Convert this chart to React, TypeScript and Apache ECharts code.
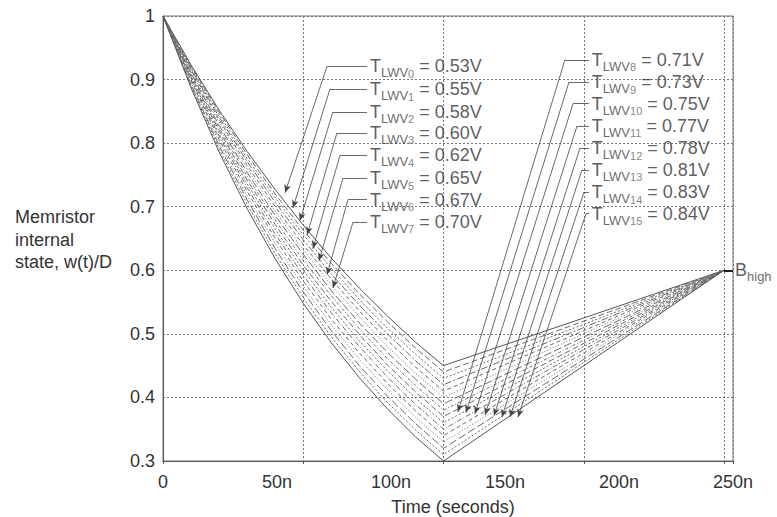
import React, { useEffect, useRef } from "react";
import * as echarts from "echarts";

// time axis (ns)
const timeNs = [0, 12.5, 25, 37.5, 50, 62.5, 75, 87.5, 100, 112.5, 125, 250];

// memristor internal state w(t)/D for each curve
const w0 = [1, 0.923, 0.852, 0.787, 0.727, 0.671, 0.619, 0.572, 0.528, 0.487, 0.45, 0.6];
const w1 = [1, 0.921, 0.849, 0.782, 0.72, 0.663, 0.611, 0.563, 0.519, 0.478, 0.44, 0.6];
const w2 = [1, 0.919, 0.845, 0.776, 0.714, 0.656, 0.603, 0.554, 0.509, 0.468, 0.43, 0.6];
const w3 = [1, 0.917, 0.841, 0.771, 0.707, 0.648, 0.594, 0.545, 0.5, 0.458, 0.42, 0.6];
const w4 = [1, 0.915, 0.837, 0.765, 0.7, 0.64, 0.586, 0.536, 0.49, 0.448, 0.41, 0.6];
const w5 = [1, 0.912, 0.833, 0.76, 0.693, 0.632, 0.577, 0.527, 0.48, 0.438, 0.4, 0.6];
const w6 = [1, 0.91, 0.828, 0.754, 0.686, 0.625, 0.568, 0.517, 0.471, 0.429, 0.39, 0.6];
const w7 = [1, 0.908, 0.824, 0.748, 0.679, 0.616, 0.56, 0.508, 0.461, 0.419, 0.38, 0.6];
const w8 = [1, 0.905, 0.82, 0.742, 0.672, 0.608, 0.551, 0.499, 0.451, 0.409, 0.37, 0.6];
const w9 = [1, 0.903, 0.815, 0.736, 0.665, 0.6, 0.542, 0.489, 0.442, 0.399, 0.36, 0.6];
const w10 = [1, 0.9, 0.811, 0.73, 0.657, 0.592, 0.533, 0.48, 0.432, 0.389, 0.35, 0.6];
const w11 = [1, 0.898, 0.806, 0.724, 0.65, 0.583, 0.523, 0.47, 0.422, 0.379, 0.34, 0.6];
const w12 = [1, 0.895, 0.801, 0.717, 0.642, 0.575, 0.514, 0.46, 0.412, 0.369, 0.33, 0.6];
const w13 = [1, 0.892, 0.796, 0.711, 0.634, 0.566, 0.505, 0.45, 0.402, 0.359, 0.32, 0.6];
const w14 = [1, 0.89, 0.791, 0.704, 0.626, 0.557, 0.495, 0.441, 0.392, 0.349, 0.31, 0.6];
const w15 = [1, 0.887, 0.786, 0.697, 0.618, 0.548, 0.486, 0.431, 0.382, 0.338, 0.3, 0.6];
const curves = [w0, w1, w2, w3, w4, w5, w6, w7, w8, w9, w10, w11, w12, w13, w14, w15];

// threshold voltages
const tlwvValues = ["0.53", "0.55", "0.58", "0.60", "0.62", "0.65", "0.67", "0.70",
  "0.71", "0.73", "0.75", "0.77", "0.78", "0.81", "0.83", "0.84"];

// annotation anchors (data units: ns, w/D)
const labelT = [92.2, 92.2, 92.2, 92.2, 92.2, 92.2, 92.2, 92.2,
  191.1, 191.1, 191.1, 191.1, 191.1, 191.1, 191.1, 191.1];
const labelV = [0.921, 0.885, 0.849, 0.816, 0.781, 0.745, 0.711, 0.676,
  0.931, 0.896, 0.862, 0.827, 0.792, 0.758, 0.723, 0.689];
const leaderT = [90.9, 90.9, 90.9, 90.9, 90.9, 90.9, 90.9, 90.9,
  189.8, 189.8, 189.8, 189.8, 189.8, 189.8, 189.8, 189.8];
const elbowT = [73.1, 74.4, 75.7, 77.5, 78.9, 80.2, 82.4, 84.7,
  179.1, 180.9, 182.7, 184.5, 185.8, 186.7, 187.6, 188.5];
const tipT = [54.4, 57.9, 61.0, 64.2, 66.8, 69.5, 73.1, 75.7,
  131.4, 135.0, 139.0, 143.5, 147.5, 151.0, 154.6, 158.2];
const tipV = [0.722, 0.698, 0.678, 0.656, 0.634, 0.615, 0.593, 0.572,
  0.377, 0.376, 0.374, 0.372, 0.371, 0.369, 0.369, 0.369];

const xTickLabels = ["0", "50n", "100n", "150n", "200n", "250n"];

const lineTypes: any[] = ["solid", [6, 3], [2, 2], [7, 2, 2, 2], [4, 3], [1, 2], [8, 3], [3, 2, 1, 2],
  [6, 3], [2, 2], [5, 2, 1, 2], [4, 3], [1, 2], [8, 3], [2, 2], "solid"];

const FONT = "'Liberation Sans', Arial, sans-serif";

export default function App() {
  const ref = useRef<HTMLDivElement>(null);
  useEffect(() => {
    const chart = echarts.init(ref.current!, undefined, { renderer: "svg" });

    const curveSeries = curves.map((c, k) => ({
      type: "line",
      name: "TLWV" + k,
      xAxisIndex: 0,
      yAxisIndex: 0,
      data: timeNs.map((t, i) => [t, c[i]]),
      showSymbol: false,
      symbol: "none",
      silent: true,
      lineStyle: { color: k === 0 || k === 15 ? "#555" : "#6a6a6a", width: 1, type: lineTypes[k] },
      z: 2,
    }));

    const markData: any[] = [];
    for (let k = 0; k < 16; k++) {
      markData.push([
        { coord: [leaderT[k], labelV[k]], symbol: "none" },
        { coord: [elbowT[k], labelV[k]], symbol: "none" },
      ]);
      markData.push([
        { coord: [elbowT[k], labelV[k]], symbol: "none" },
        { coord: [tipT[k], tipV[k]], symbol: "arrow", symbolSize: [5, 8] },
      ]);
    }
    markData.push([
      { coord: [250, 0.6], symbol: "none" },
      { coord: [254, 0.6], symbol: "none", lineStyle: { width: 2, color: "#222" } },
    ]);

    const labelSeries = {
      type: "scatter",
      xAxisIndex: 0,
      yAxisIndex: 0,
      silent: true,
      symbolSize: 0,
      data: labelT.map((t, k) => ({ value: [t, labelV[k]], k })),
      label: {
        show: true,
        position: "right",
        distance: 0,
        formatter: (p: any) => `{T|T}{L|LWV}{s|${p.dataIndex}}{n| = ${tlwvValues[p.dataIndex]}V}`,
        rich: {
          T: { fontSize: 18, color: "#333", fontFamily: FONT, lineHeight: 26, verticalAlign: "middle" },
          L: { fontSize: 13, color: "#444", fontFamily: FONT, lineHeight: 22, verticalAlign: "bottom" },
          s: { fontSize: 11, color: "#666", fontFamily: FONT, lineHeight: 14, verticalAlign: "bottom" },
          n: { fontSize: 18, color: "#333", fontFamily: FONT, lineHeight: 26, verticalAlign: "middle" },
        },
      },
      markLine: {
        silent: true,
        symbol: ["none", "none"],
        label: { show: false },
        lineStyle: { color: "#444", width: 0.8, type: "solid" },
        emphasis: { disabled: true },
        data: markData,
      },
      z: 5,
    };

    const bHighSeries = {
      type: "scatter",
      xAxisIndex: 0,
      yAxisIndex: 0,
      silent: true,
      symbolSize: 0,
      data: [[250, 0.6]],
      label: {
        show: true,
        position: "right",
        distance: 11,
        formatter: "{B|B}{h|high}",
        rich: {
          B: { fontSize: 18, color: "#333", fontFamily: FONT, lineHeight: 26, verticalAlign: "middle" },
          h: { fontSize: 13, color: "#444", fontFamily: FONT, lineHeight: 18, verticalAlign: "bottom" },
        },
      },
      z: 5,
    };

    const option: any = {
      animation: false,
      backgroundColor: "#ffffff",
      textStyle: { fontFamily: FONT },
      grid: { left: 163, right: 44, top: 16, bottom: 56, show: true, borderColor: "#777", borderWidth: 1 },
      xAxis: [
        {
          type: "value",
          min: 0,
          max: 254,
          interval: 62.5,
          axisLine: { show: true, lineStyle: { color: "#555" } },
          axisTick: { show: true, length: 3, lineStyle: { color: "#555" } },
          axisLabel: { show: false },
          splitLine: { show: true, lineStyle: { color: "#777", type: [2, 2], width: 1 } },
        },
        {
          type: "value",
          position: "bottom",
          min: 0,
          max: 250,
          interval: 50,
          axisLine: { show: false },
          axisTick: { show: false },
          splitLine: { show: false },
          axisLabel: {
            fontSize: 18,
            color: "#333",
            margin: 12,
            fontFamily: FONT,
            formatter: (v: number) => xTickLabels[Math.round(v / 50)] ?? "",
          },
        },
      ],
      yAxis: {
        type: "value",
        min: 0.3,
        max: 1,
        interval: 0.1,
        axisLine: { show: true, lineStyle: { color: "#555" } },
        axisTick: { show: false },
        axisLabel: {
          fontSize: 18,
          color: "#333",
          margin: 8,
          fontFamily: FONT,
          formatter: (v: number) => (Math.abs(v - 1) < 1e-6 ? "1" : v.toFixed(1)),
        },
        splitLine: { show: true, lineStyle: { color: "#777", type: [2, 2], width: 1 } },
      },
      graphic: [
        {
          type: "text",
          left: 15,
          top: 206,
          style: {
            text: "Memristor\ninternal\nstate, w(t)/D",
            fontSize: 18,
            lineHeight: 22.5,
            fill: "#333",
            fontFamily: FONT,
          },
        },
        {
          type: "text",
          x: 453,
          y: 507,
          style: {
            text: "Time (seconds)",
            fontSize: 18,
            fill: "#333",
            fontFamily: FONT,
            align: "center",
            verticalAlign: "middle",
          },
        },
      ],
      series: [...curveSeries, labelSeries, bHighSeries],
    };
    chart.setOption(option);
    return () => chart.dispose();
  }, []);

  return (
    <div
      ref={ref}
      style={{ position: "fixed", left: 0, top: 0, width: 777, height: 517, background: "#fff" }}
    />
  );
}
